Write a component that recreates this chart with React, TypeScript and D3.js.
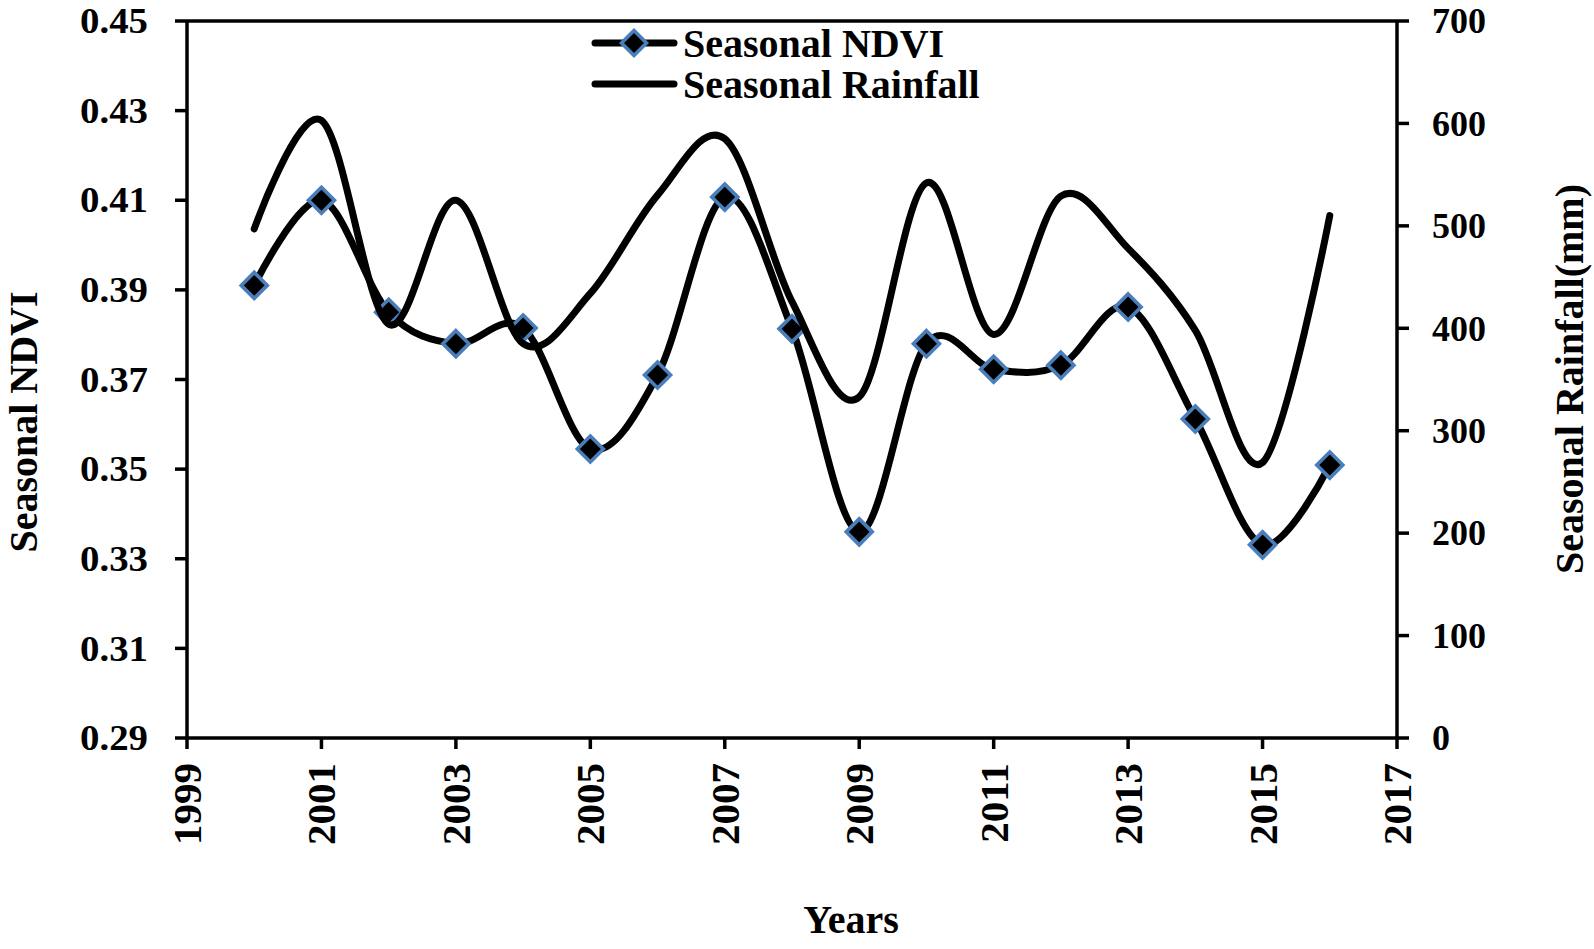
import React, { useEffect, useRef } from "react";
import * as d3 from "d3";

const years = [2000, 2001, 2002, 2003, 2004, 2005, 2006, 2007, 2008, 2009, 2010, 2011, 2012, 2013, 2014, 2015, 2016];
const ndvi = [0.391, 0.41, 0.385, 0.378, 0.3815, 0.3545, 0.371, 0.4107, 0.3813, 0.336, 0.378, 0.3723, 0.3732, 0.3862, 0.3612, 0.3331, 0.3509];
const rainfall = [497, 603, 404, 525, 385, 434, 530, 585, 426, 333, 542, 394, 529, 478, 398, 269, 510];
const xTicks = [1999, 2001, 2003, 2005, 2007, 2009, 2011, 2013, 2015, 2017];
const ndviTicks = [0.29, 0.31, 0.33, 0.35, 0.37, 0.39, 0.41, 0.43, 0.45];
const rainTicks = [0, 100, 200, 300, 400, 500, 600, 700];

const W = 1594, H = 949;
const L = 187, R = 1397, T = 21, B = 738;
const FONT = "'Liberation Serif', 'Times New Roman', serif";
const BLUE = "#4A7EBB";

export default function App() {
  const ref = useRef<SVGSVGElement>(null);
  useEffect(() => {
    const svg = d3.select(ref.current);
    svg.selectAll("*").remove();
    const x = d3.scaleLinear().domain([1999, 2017]).range([L, R]);
    const y = d3.scaleLinear().domain([0.29, 0.45]).range([B, T]);
    const y2 = d3.scaleLinear().domain([0, 700]).range([B, T]);

    svg.append("rect").attr("width", W).attr("height", H).attr("fill", "#fff");

    // frame
    const g = svg.append("g").attr("stroke", "#000").attr("stroke-width", 3.5);
    g.append("line").attr("x1", L).attr("x2", R).attr("y1", T).attr("y2", T);
    g.append("line").attr("x1", L).attr("x2", R).attr("y1", B).attr("y2", B);
    g.append("line").attr("x1", L).attr("x2", L).attr("y1", T).attr("y2", B);
    g.append("line").attr("x1", R).attr("x2", R).attr("y1", T).attr("y2", B);

    // left ticks
    ndviTicks.forEach((t) => {
      g.append("line").attr("x1", L - 12).attr("x2", L).attr("y1", y(t)).attr("y2", y(t));
      svg.append("text").attr("x", 148).attr("y", y(t)).attr("dy", "0.34em")
        .attr("text-anchor", "end").attr("font-family", FONT).attr("font-weight", "bold")
        .attr("font-size", 36).attr("textLength", 68).attr("lengthAdjust", "spacingAndGlyphs")
        .text(t.toFixed(2));
    });
    // right ticks
    rainTicks.forEach((t) => {
      g.append("line").attr("x1", R).attr("x2", R + 12).attr("y1", y2(t)).attr("y2", y2(t));
      svg.append("text").attr("x", 1432).attr("y", y2(t)).attr("dy", "0.34em")
        .attr("text-anchor", "start").attr("font-family", FONT).attr("font-weight", "bold")
        .attr("font-size", 36)
        .text(String(t));
    });
    // x ticks
    xTicks.forEach((t) => {
      g.append("line").attr("x1", x(t)).attr("x2", x(t)).attr("y1", B).attr("y2", B + 11);
      svg.append("text").attr("transform", `translate(${x(t)},763) rotate(-90)`)
        .attr("dy", "0.34em").attr("text-anchor", "end").attr("font-family", FONT)
        .attr("font-weight", "bold").attr("font-size", 41).text(String(t));
    });

    // titles
    svg.append("text").attr("transform", `translate(37,422) rotate(-90)`)
      .attr("text-anchor", "middle").attr("font-family", FONT).attr("font-weight", "bold")
      .attr("font-size", 40).text("Seasonal NDVI");
    svg.append("text").attr("transform", `translate(1583,379) rotate(-90)`)
      .attr("text-anchor", "middle").attr("font-family", FONT).attr("font-weight", "bold")
      .attr("font-size", 40).text("Seasonal Rainfall(mm)");
    svg.append("text").attr("x", 851).attr("y", 933)
      .attr("text-anchor", "middle").attr("font-family", FONT).attr("font-weight", "bold")
      .attr("font-size", 40).text("Years");

    const curve = d3.curveCardinal.tension(0);
    const ndviLine = d3.line<number>().x((_, i) => x(years[i])).y((d) => y(d)).curve(curve);
    const rainLine = d3.line<number>().x((_, i) => x(years[i])).y((d) => y2(d)).curve(curve);

    const diamond = (cx: number, cy: number, r: number) =>
      `M${cx},${cy - r}L${cx + r},${cy}L${cx},${cy + r}L${cx - r},${cy}Z`;

    svg.append("path").attr("d", ndviLine(ndvi)).attr("fill", "none").attr("stroke", "#000")
      .attr("stroke-width", 7).attr("stroke-linecap", "round").attr("stroke-linejoin", "round");
    ndvi.forEach((v, i) => {
      svg.append("path").attr("d", diamond(x(years[i]), y(v), 13)).attr("fill", "#000")
        .attr("stroke", BLUE).attr("stroke-width", 3.6);
    });
    svg.append("path").attr("d", rainLine(rainfall)).attr("fill", "none").attr("stroke", "#000")
      .attr("stroke-width", 7).attr("stroke-linecap", "round").attr("stroke-linejoin", "round");

    // legend
    svg.append("line").attr("x1", 595).attr("x2", 674).attr("y1", 43).attr("y2", 43)
      .attr("stroke", "#000").attr("stroke-width", 7).attr("stroke-linecap", "round");
    svg.append("path").attr("d", diamond(634, 43, 12.5)).attr("fill", "#000")
      .attr("stroke", BLUE).attr("stroke-width", 3.6);
    svg.append("text").attr("x", 683).attr("y", 57).attr("font-family", FONT)
      .attr("font-weight", "bold").attr("font-size", 40).text("Seasonal NDVI");
    svg.append("line").attr("x1", 595).attr("x2", 674).attr("y1", 84).attr("y2", 84)
      .attr("stroke", "#000").attr("stroke-width", 7).attr("stroke-linecap", "round");
    svg.append("text").attr("x", 683).attr("y", 98).attr("font-family", FONT)
      .attr("font-weight", "bold").attr("font-size", 40).text("Seasonal Rainfall");
  }, []);
  return (
    <svg ref={ref} width={W} height={H} style={{ position: "absolute", left: 0, top: 0 }} />
  );
}
